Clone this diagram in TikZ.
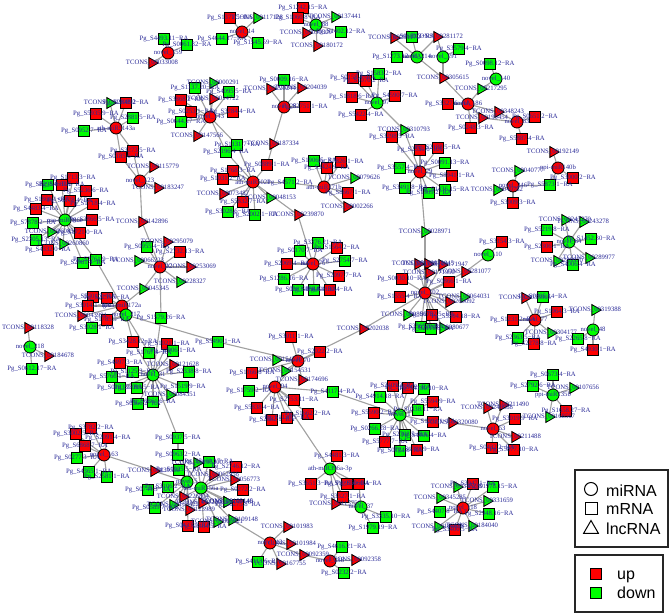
\documentclass[tikz,border=0pt]{standalone}
\usepackage{fontspec}
\setmainfont{Liberation Serif}
\newfontfamily\legfont{Liberation Sans}
\usetikzlibrary{shapes.geometric}
\pgfdeclarelayer{bg}\pgfsetlayers{bg,main}
\definecolor{nr}{RGB}{255,0,0}
\definecolor{ng}{RGB}{0,255,0}
\definecolor{labc}{RGB}{40,40,150}
\definecolor{edgc}{RGB}{160,160,160}
\tikzset{
 base/.style={draw=black,line width=0.8pt,inner sep=0pt,outer sep=0pt},
 sqn/.style={base,rectangle,minimum size=11.5pt},
 cin/.style={base,circle,minimum size=12pt},
 trn/.style={base,regular polygon,regular polygon sides=3,shape border rotate=-90,minimum size=12.5pt},
 lab/.style={text=labc,font=\fontsize{6.7}{7}\selectfont,inner sep=0pt},
 edge/.style={draw=edgc,line width=1.1pt},
 legtxt/.style={font=\legfont\fontsize{16}{18}\selectfont,anchor=base west,inner sep=0pt},
 legbox/.style={draw=black!85,line width=1.2pt},
}
\newcommand\mylabs{}
\newcommand\AddLab[3]{\expandafter\gdef\expandafter\mylabs\expandafter{\mylabs\node[lab] at (#1,#2) {#3};}}
\newcommand\Sq[5]{\node[sqn,fill=n#4] (#1) at (#2,#3) {};\AddLab{#2}{#3}{Pg\_#5−RA}}
\newcommand\Tr[5]{\node[trn,fill=n#4] (#1) at (#2,#3) {};\AddLab{#2}{#3}{TCONS\_00#5}}
\newcommand\Ci[5]{\node[cin,fill=n#4] (#1) at (#2,#3) {};\AddLab{#2}{#3}{#5}}
\newcommand\St[2]{\foreach \nn in {#2}{\draw[edge] (#1.center) -- (\nn.center);}}
\newcommand\Ed[2]{\draw[edge] (#1.center) -- (#2.center);}
\begin{document}
\begin{tikzpicture}[x=1pt,y=-1pt]
\useasboundingbox (0,0) rectangle (669,615);
% A
\Ci{a0}{168}{53}{r}{novel\_159}
\Sq{a1}{164}{39}{g}{S4493.11}
\Sq{a2}{187}{45}{g}{S0061.82}
\Tr{a3}{152}{63}{r}{033008}
% B
\Ci{b0}{242}{32}{r}{novel\_14}
\Sq{b1}{230}{18}{r}{S1371.5}
\Tr{b2}{257}{18}{g}{117128}
\Sq{b3}{222}{39}{g}{S4644.17}
\Sq{b4}{258}{43}{g}{S1545.59}
% C
\Ci{c0}{316}{25}{g}{novel\_88}
\Sq{c1}{303}{8}{r}{S1242.15}
\Sq{c2}{298}{18}{r}{S1060.8}
\Tr{c3}{335}{17}{g}{137441}
\Sq{c4}{341}{32}{g}{S1402.12}
\Tr{c5}{306}{33}{r}{050309}
\Tr{c6}{317}{46}{r}{180172}
% D
\Ci{d0}{417}{57}{g}{novel\_214}
\Tr{d1}{394}{38}{r}{281170}
\Sq{d2}{412}{37}{g}{S0681.3}
\Tr{d3}{437}{37}{r}{281172}
\Sq{d4}{397}{57}{g}{S1273.12}
\Ci{d5}{443}{57}{g}{novel\_191}
\Sq{d6}{459}{49}{g}{S3579.4}
\Tr{d7}{443}{78}{r}{305615}
% E
\Ci{e0}{468}{104}{r}{novel\_186}
\Ci{e1}{496}{79}{g}{novel\_140}
\Sq{e2}{490}{64}{g}{S0098.12}
\Tr{e3}{481}{89}{g}{217295}
\Sq{e4}{448}{104}{r}{S3327.6}
\Tr{e5}{498}{112}{r}{348243}
\Tr{e6}{482}{118}{r}{199454}
\Sq{e7}{471}{128}{r}{S0248.3}
\Ci{e8}{517}{122}{r}{novel\_83}
\Sq{e9}{535}{117}{r}{S0651.2}
\Sq{e10}{522}{139}{r}{S5887.4}
% F
\Ci{f0}{558}{168}{r}{ppi-miR140b}
\Tr{f1}{553}{152}{r}{192149}
\Sq{f2}{573}{178}{r}{S3000.2}
\Sq{f3}{550}{185}{g}{S5873.1}
% G
\Ci{g0}{513}{186}{r}{novel\_246}
\Tr{g1}{518}{171}{g}{040777}
\Tr{g2}{497}{190}{g}{040782}
\Sq{g3}{513}{203}{r}{S3009.3}
% H
\Ci{h0}{377}{103}{g}{novel\_97}
\Sq{h1}{353}{78}{r}{S0158.4}
\Sq{h2}{366}{81}{r}{S1070.2}
\Sq{h3}{379}{74}{g}{S1583.2}
\Sq{h4}{352}{97}{r}{S1818.6}
\Sq{h5}{395}{96}{r}{S4590.7}
\Sq{h6}{361}{115}{r}{S5422.4}
\Tr{h7}{404}{130}{g}{310793}
% I
\Ci{i0}{420}{172}{r}{novel\_29}
\Sq{i1}{392}{137}{r}{S3298.5}
\Sq{i2}{420}{150}{r}{S2551.6}
\Sq{i3}{438}{148}{r}{S2188.5}
\Sq{i4}{400}{168}{g}{S3557.4}
\Sq{i5}{445}{163}{g}{S0091.13}
\Sq{i6}{452}{176}{r}{S8941.1}
\Sq{i7}{405}{188}{g}{S3491.8}
\Sq{i8}{429}{193}{g}{S1309.2}
\Sq{i9}{445}{190}{g}{S1436.15}
\Tr{i10}{425}{232}{g}{028971}
% J
\Ci{j0}{284}{107}{r}{novel\_28}
\Sq{j1}{284}{80}{g}{S0009.16}
\Tr{j2}{270}{89}{r}{220244}
\Tr{j3}{301}{88}{r}{204039}
\Sq{j4}{305}{107}{r}{S2751.1}
\Tr{j5}{273}{144}{r}{187334}
\Sq{j6}{267}{165}{r}{S0889.1}
% K
\Ci{k0}{210}{117}{r}{novel\_143}
\Tr{k1}{213}{83}{g}{000291}
\Sq{k2}{195}{88}{g}{S1137.20}
\Sq{k3}{229}{92}{g}{S4095.5}
\Sq{k4}{181}{100}{r}{S3868.2}
\Tr{k5}{213}{99}{r}{014722}
\Sq{k6}{191}{112}{r}{S0253.1}
\Sq{k7}{233}{112}{r}{S3284.4}
\Sq{k8}{181}{122}{g}{S0644.27}
\Tr{k9}{197}{136}{r}{147566}
\Sq{k10}{226}{152}{g}{S2196.4}
\Sq{k11}{237}{145}{g}{S1131.7}
% L
\Ci{l0}{253}{182}{r}{ath-miR5021}
\Sq{l1}{233}{171}{r}{S1768.3}
\Sq{l2}{223}{179}{r}{S1031.2}
\Tr{l3}{223}{194}{r}{073487}
\Sq{l4}{290}{183}{g}{S4571.2}
\Tr{l5}{270}{198}{g}{048153}
\Sq{l6}{243}{202}{r}{S5832.7}
\Sq{l7}{228}{212}{g}{S3028.6}
\Sq{l8}{255}{215}{g}{S2002.1}
\Tr{l9}{298}{215}{r}{239870}
% M
\Ci{m0}{324}{187}{r}{ath-miR171b}
\Sq{m1}{314}{161}{g}{S1906.5}
\Sq{m2}{327}{168}{r}{S3424.9}
\Sq{m3}{341}{162}{r}{S7826.1}
\Tr{m4}{354}{178}{g}{079626}
\Sq{m5}{348}{193}{r}{S8667.1}
\Tr{m6}{347}{207}{r}{002266}
% N
\Ci{n0}{313}{264}{r}{novel\_76}
\Sq{n1}{318}{243}{g}{S3376.21}
\Sq{n2}{337}{248}{r}{S1564.2}
\Sq{n3}{300}{251}{g}{S0170.7}
\Sq{n4}{287}{264}{r}{S2069.4}
\Sq{n5}{345}{261}{g}{S2754.7}
\Sq{n6}{339}{276}{r}{S2097.7}
\Sq{n7}{284}{279}{g}{S1286.16}
\Sq{n8}{298}{290}{g}{S0283.4}
\Sq{n9}{314}{290}{g}{S3844.1}
\Sq{n10}{330}{290}{r}{S4130.4}
% O
\Ci{o0}{425}{293}{r}{novel\_102}
\Tr{o1}{418}{264}{r}{171940}
\Tr{o2}{428}{264}{r}{171945}
\Tr{o3}{442}{265}{r}{171947}
\Tr{o4}{429}{273}{r}{171950}
\Tr{o5}{465}{272}{r}{281077}
\Sq{o6}{402}{279}{r}{S0030.10}
\Sq{o7}{449}{282}{r}{S0866.1}
\Sq{o8}{400}{297}{r}{S1555.4}
\Tr{o9}{464}{297}{g}{064031}
\Tr{o10}{449}{302}{r}{260092}
\Sq{o11}{432}{315}{r}{S1782.5}
\Sq{o12}{456}{317}{r}{S3304.18}
\Tr{o13}{407}{315}{g}{080675}
\Sq{o14}{421}{327}{g}{S3565.8}
\Sq{o15}{431}{329}{g}{S2116.3}
\Tr{o16}{443}{328}{g}{080677}
\Tr{o17}{363}{329}{r}{202038}
% P
\Ci{p0}{488}{255}{g}{novel\_110}
\Sq{p1}{502}{242}{r}{S3154.3}
% Q
\Ci{q0}{569}{242}{g}{novel\_64}
\Tr{q1}{565}{220}{g}{243270}
\Tr{q2}{583}{222}{g}{243278}
\Sq{q3}{547}{230}{g}{S5219.8}
\Sq{q4}{591}{239}{g}{S1452.30}
\Sq{q5}{547}{247}{r}{S2306.1}
\Tr{q6}{589}{258}{g}{289977}
\Tr{q7}{557}{261}{g}{289970}
\Sq{q8}{573}{265}{g}{S4006.4}
% R
\Ci{r0}{535}{320}{r}{novel\_77}
\Tr{r1}{525}{298}{r}{033905}
\Sq{r2}{543}{297}{g}{S0305.14}
\Sq{r3}{557}{312}{r}{S1964.3}
\Sq{r4}{513}{320}{r}{S1231.2}
\Sq{r5}{518}{338}{g}{S2363.5}
\Tr{r6}{551}{333}{g}{304177}
\Sq{r7}{534}{344}{r}{S2278.8}
% S
\Ci{s0}{593}{330}{g}{novel\_48}
\Tr{s1}{595}{310}{g}{319388}
\Sq{s2}{578}{339}{g}{S2265.8}
\Sq{s3}{593}{350}{r}{S4930.1}
% T
\Ci{t0}{553}{395}{g}{ppi-miR135b}
\Sq{t1}{553}{375}{g}{S0673.4}
\Sq{t2}{533}{386}{g}{S2792.6}
\Tr{t3}{573}{388}{g}{107656}
\Sq{t4}{566}{411}{r}{S1658.27}
\Tr{t5}{549}{417}{g}{168567}
% U
\Ci{u0}{493}{429}{r}{novel\_53}
\Tr{u1}{503}{405}{r}{211490}
\Tr{u2}{487}{408}{r}{240088}
\Sq{u3}{515}{419}{r}{S3019.9}
\Tr{u4}{452}{423}{r}{320080}
\Tr{u5}{515}{437}{r}{211488}
\Sq{u6}{492}{448}{r}{S0432.2}
\Sq{u7}{514}{450}{r}{S5877.10}
% V
\Ci{v0}{463}{508}{r}{novel\_118}
\Sq{v1}{473}{484}{r}{S3947.1}
\Tr{v2}{457}{487}{g}{345280}
\Sq{v3}{493}{487}{g}{S1978.15}
\Tr{v4}{487}{501}{g}{331659}
\Sq{v5}{489}{514}{g}{S2948.16}
\Tr{v6}{472}{526}{g}{184040}
\Sq{v7}{455}{530}{r}{S3400.5}
\Tr{v8}{440}{498}{g}{345285}
\Sq{v9}{440}{512}{g}{S4407.8}
\Tr{v10}{438}{527}{g}{184038}
% W
\Ci{w0}{400}{415}{g}{novel\_1}
\Sq{w1}{380}{397}{g}{S4914.18}
\Sq{w2}{393}{386}{r}{S2409.3}
\Sq{w3}{408}{388}{r}{S1884.2}
\Sq{w4}{424}{389}{g}{S4180.10}
\Sq{w5}{433}{402}{r}{S5594.9}
\Sq{w6}{418}{410}{g}{S0338.11}
\Sq{w7}{374}{413}{r}{S5590.2}
\Sq{w8}{375}{429}{g}{S0266.28}
\Sq{w9}{405}{435}{g}{S2708.5}
\Sq{w10}{424}{436}{g}{S4406.4}
\Sq{w11}{433}{422}{r}{S1293.1}
\Sq{w12}{385}{442}{r}{S5777.7}
\Sq{w13}{400}{451}{g}{S0174.8}
\Sq{w14}{417}{450}{r}{S1788.9}
\Sq{w15}{333}{392}{g}{S4117.4}
% X
\Ci{x0}{275}{387}{r}{novel\_94}
\Sq{x1}{249}{391}{g}{S1759.2}
\Sq{x2}{294}{400}{r}{S2753.11}
\Sq{x3}{257}{408}{r}{S5838.4}
\Sq{x4}{272}{420}{r}{S2682.1}
\Sq{x5}{287}{418}{r}{S1130.5}
\Sq{x6}{308}{414}{r}{S1662.2}
% Y
\Ci{y0}{298}{361}{r}{novel\_70}
\Sq{y1}{291}{337}{r}{S3011.1}
\Sq{y2}{320}{352}{r}{S2022.2}
\Tr{y3}{276}{360}{g}{154530}
\Tr{y4}{285}{371}{g}{154531}
\Tr{y5}{302}{380}{r}{174696}
\Sq{y6}{252}{373}{r}{S1166.8}
\Sq{y7}{218}{342}{g}{S5490.1}
% Z
\Ci{z0}{330}{469}{g}{ath-miR396a-3p}
\Sq{z1}{337}{456}{r}{S4481.3}
\Sq{z2}{311}{484}{r}{S3651.3}
\Sq{z3}{347}{484}{r}{S1995.6}
\Sq{z4}{359}{484}{r}{S5060.4}
\Sq{z5}{343}{497}{r}{S3327.1}
\Tr{z6}{335}{504}{r}{113750}
\Ci{z7}{361}{507}{g}{novel\_37}
\Sq{z8}{386}{517}{g}{S3335.10}
\Sq{z9}{373}{528}{g}{S1979.19}
% AA / AB
\Ci{aa0}{270}{543}{r}{novel\_13}
\Tr{aa1}{287}{527}{r}{101983}
\Tr{aa2}{290}{544}{r}{101984}
\Sq{aa3}{258}{562}{g}{S4113.6}
\Tr{aa4}{280}{564}{r}{167755}
\Tr{aa5}{303}{555}{r}{092359}
\Ci{ab0}{330}{561}{r}{novel\_238}
\Sq{ab1}{342}{547}{g}{S4616.21}
\Tr{ab2}{355}{560}{r}{092358}
\Sq{ab3}{344}{573}{g}{S0232.2}
% AC
\Sq{ac1}{236}{467}{r}{S2746.12}
\Tr{ac2}{234}{480}{r}{056773}
\Sq{ac3}{243}{490}{r}{S0272.2}
\Tr{ac4}{227}{502}{g}{109140}
\Sq{ac5}{238}{505}{r}{S0275.8}
\Tr{ac6}{232}{520}{g}{109148}
% AD
\Ci{ad0}{104}{455}{r}{novel\_163}
\Sq{ad1}{91}{428}{r}{S3782.2}
\Sq{ad2}{76}{434}{r}{S3002.5}
\Sq{ad3}{108}{438}{r}{S2091.4}
\Sq{ad4}{85}{446}{r}{S6868.7}
\Sq{ad5}{77}{458}{g}{S0277.3}
\Sq{ad6}{89}{472}{g}{S4365.1}
\Sq{ad7}{107}{477}{g}{S2581.1}
\Tr{ad8}{154}{471}{r}{139560}
% AE
\Sq{ae2}{178}{438}{g}{S0937.5}
\Sq{ae3}{178}{455}{g}{S0963.2}
\Sq{ae4}{179}{470}{g}{S1925.5}
\Tr{ae5}{197}{463}{g}{195200}
\Sq{ae6}{209}{462}{g}{S5160.17}
\Tr{ae7}{213}{475}{r}{062956}
\Sq{ae8}{148}{490}{g}{S0744.3}
\Sq{ae9}{168}{487}{g}{S3106.2}
\Tr{ae10}{183}{497}{r}{226804}
\Tr{ae11}{202}{503}{r}{123900}
\Tr{ae12}{173}{505}{g}{165422}
\Sq{ae13}{155}{508}{g}{S0589.7}
\Tr{ae14}{189}{510}{r}{123989}
\Sq{ae15}{188}{526}{r}{S0433.1}
\Sq{ae16}{204}{527}{r}{S3484.5}
\Tr{ae17}{217}{522}{g}{065821}
\Tr{ae18}{227}{502}{g}{109146}
\Ci{ae0}{187}{482}{g}{novel\_5}
\Ci{ae1}{201}{488}{g}{ath-miR156a}
% AF
\Ci{af0}{153}{375}{g}{novel\_31}
\Sq{af1}{133}{342}{r}{S3428.12}
\Sq{af2}{149}{353}{g}{S1767.4}
\Sq{af3}{167}{344}{r}{S1021.1}
\Sq{af4}{173}{351}{g}{S2906.1}
\Sq{af5}{120}{363}{r}{S4497.3}
\Sq{af6}{133}{372}{g}{S1125.3}
\Tr{af7}{173}{365}{r}{121628}
\Sq{af8}{189}{372}{g}{S2338.8}
\Sq{af9}{112}{377}{g}{S5766.1}
\Sq{af10}{120}{388}{g}{S0183.3}
\Sq{af11}{137}{388}{g}{S1099.5}
\Sq{af12}{183}{387}{g}{S1519.9}
\Tr{af13}{170}{395}{g}{084351}
\Sq{af14}{138}{404}{g}{S0566.2}
\Sq{af15}{153}{402}{g}{S0861.6}
% AG
\Ci{ag0}{122}{306}{r}{gma-miR172a}
\Ci{ag1}{126}{315}{g}{novel\_217}
\Sq{ag2}{93}{297}{r}{S5701.3}
\Sq{ag3}{107}{298}{r}{S2259.5}
\Sq{ag4}{88}{306}{r}{S3014.1}
\Tr{ag5}{81}{316}{r}{043991}
\Sq{ag6}{107}{320}{r}{S1785.5}
\Sq{ag7}{92}{328}{g}{S3028.1}
\Sq{ag8}{161}{318}{g}{S1579.26}
\Tr{ag9}{143}{289}{g}{045345}
% AH
\Ci{ah0}{160}{267}{r}{novel\_12}
\Tr{ah1}{142}{222}{r}{142896}
\Sq{ah2}{147}{247}{g}{S0955.4}
\Tr{ah3}{167}{242}{r}{295079}
\Sq{ah4}{180}{252}{r}{S2732.13}
\Tr{ah5}{138}{261}{g}{066223}
\Tr{ah6}{190}{267}{r}{253069}
\Tr{ah7}{180}{282}{g}{228327}
% AI / AJ
\Ci{ai0}{116}{128}{r}{ath-miR5143a}
\Tr{ai1}{110}{103}{g}{190892}
\Sq{ai2}{126}{103}{r}{S2848.2}
\Sq{ai3}{96}{114}{r}{S5935.9}
\Sq{ai4}{133}{118}{g}{S2881.5}
\Sq{ai5}{84}{131}{g}{S0952.7}
\Sq{ai6}{133}{151}{r}{S3273.5}
\Sq{ai7}{121}{157}{r}{S0185.6}
\Ci{aj0}{140}{181}{r}{novel\_123}
\Tr{aj1}{153}{167}{r}{115779}
\Tr{aj2}{158}{188}{r}{183247}
% AK
\Ci{ak0}{65}{220}{g}{osa-miR396e}
\Sq{ak1}{73}{178}{r}{S1713.3}
\Sq{ak2}{62}{185}{r}{S4683.5}
\Sq{ak3}{48}{185}{g}{S8298.4}
\Sq{ak4}{86}{191}{r}{S5236.6}
\Sq{ak5}{36}{209}{r}{S4483.4}
\Sq{ak6}{47}{200}{r}{S1860.1}
\Sq{ak7}{70}{201}{r}{S6178.4}
\Sq{ak17}{93}{204}{r}{S1718.4}
\Sq{ak8}{92}{220}{r}{S3866.5}
\Sq{ak9}{33}{223}{g}{S7878.2}
\Tr{ak10}{51}{232}{g}{260851}
\Sq{ak11}{80}{233}{r}{S1721.0}
\Sq{ak12}{36}{240}{g}{S2305.13}
\Tr{ak13}{63}{244}{g}{260860}
\Sq{ak14}{48}{250}{r}{S4332.0}
\Sq{ak15}{96}{260}{g}{S2761.9}
\Sq{ak16}{83}{263}{g}{S2981.4}
% AL
\Ci{al0}{30}{347}{g}{novel\_218}
\Tr{al1}{28}{328}{r}{118328}
\Tr{al2}{48}{356}{r}{184678}
\Sq{al3}{32}{369}{g}{S0612.17}
% edges
\begin{pgfonlayer}{bg}
\St{a0}{a1,a2,a3}
\St{b0}{b1,b2,b3,b4}
\St{c0}{c1,c2,c3,c4,c5,c6}
\St{d0}{d1,d2,d3,d4,d7}
\St{d5}{d3,d6,d7}
\St{e0}{e3,e4,e5,e6,e7,d7}
\St{e1}{e2,e3}
\St{e8}{e5,e6,e9,e10}
\St{f0}{f1,f2,f3}
\St{g0}{g1,g2,g3,f3}
\St{h0}{h1,h2,h3,h4,h5,h6,h7}
\St{i0}{h7,i1,i2,i3,i4,i5,i6,i7,i8,i9,i10}
\St{j0}{j1,j2,j3,j4,j5}
\Ed{j5}{j6}
\St{k0}{k1,k2,k3,k4,k5,k6,k7,k8,k9,k10,k11}
\St{l0}{j6,k10,k11,l1,l2,l3,l4,l5,l6,l7,l8,l9}
\St{m0}{l4,m1,m2,m3,m4,m5,m6}
\St{n0}{l9,n1,n2,n3,n4,n5,n6,n7,n8,n9,n10}
\St{o0}{i10,o1,o2,o3,o4,o5,o6,o7,o8,o9,o10,o11,o12,o13,o14,o15,o16,o17}
\St{p0}{p1,o5}
\St{q0}{q1,q2,q3,q4,q5,q6,q7,q8}
\St{r0}{r1,r2,r3,r4,r5,r6,r7}
\St{s0}{s1,s2,s3}
\St{t0}{t1,t2,t3,t4,t5}
\St{u0}{u1,u2,u3,u4,u5,u6,u7}
\St{v0}{v1,v2,v3,v4,v5,v6,v7,v8,v9,v10}
\St{w0}{w1,w2,w3,w4,w5,w6,w7,w8,w9,w10,w11,w12,w13,w14,w15}
\St{x0}{x1,x2,x3,x4,x5,x6,w15,z0}
\St{y0}{y1,y2,y3,y4,y5,y6,y7,o17,x0}
\St{z0}{z1,z2,z3,z4,z5,z6}
\St{z7}{z4,z5,z6,z8,z9}
\St{aa0}{aa1,aa2,aa3,aa4,aa5,ac6}
\St{ab0}{aa5,ab1,ab2,ab3}
\St{ad0}{ad1,ad2,ad3,ad4,ad5,ad6,ad7,ad8}
\St{ae0}{ad8,ae3,ae4,ae5,ae8,ae9,ae10,ae12,ae13,ae14,ae15}
\St{ae1}{ae3,ae5,ae6,ae7,ae10,ae11,ae14,ae16,ae17,ae18,ac1,ac2,ac3,ac4,ac5,ac6}
\Ed{ae2}{ae3}
\St{af0}{af1,af2,af3,af4,af5,af6,af7,af8,af9,af10,af11,af12,af13,af14,af15,ae2}
\St{ag0}{ag2,ag3,ag4,ag5,ag6,ag9,ak15}
\St{ag1}{ag6,ag7,y7,af1,af2}
\St{ah0}{ah1,ah2,ah3,ah4,ah5,ah6,ah7,ag9,ag8}
\Ed{ag8}{af0}
\St{ai0}{ai1,ai2,ai3,ai4,ai5,ai6,ai7}
\St{aj0}{ai6,ai7,aj1,aj2,ah1}
\St{ak0}{ak1,ak2,ak3,ak4,ak5,ak6,ak7,ak17,ak8,ak9,ak10,ak11,ak12,ak13,ak14,ak15,ak16}
\St{al0}{al1,al2,al3}
\end{pgfonlayer}
% labels on top
\mylabs
% legend
\draw[legbox] (575,470) rectangle (668,547);
\node[draw=black,line width=1pt,circle,minimum size=13pt,inner sep=0pt] (lg1) at (591,489) {};
\node[draw=black,line width=1pt,rectangle,minimum size=12pt,inner sep=0pt] (lg2) at (591,508) {};
\node[draw=black,line width=1pt,regular polygon,regular polygon sides=3,minimum size=17pt,inner sep=0pt] (lg3) at (591,529) {};
\node[legtxt] (lt1) at (606,496) {miRNA};
\node[legtxt] (lt2) at (606,514) {mRNA};
\node[legtxt] (lt3) at (606,534) {lncRNA};
\draw[legbox] (575,555) rectangle (663,612);
\node[draw=black,line width=0.8pt,fill=nr,minimum size=11pt,inner sep=0pt] (lu) at (596,574) {};
\node[draw=black,line width=0.8pt,fill=ng,minimum size=11pt,inner sep=0pt] (ld) at (596,593) {};
\node[legtxt] (lt4) at (617,579.5) {up};
\node[legtxt] (lt5) at (617,598.5) {down};
\end{tikzpicture}
\end{document}
